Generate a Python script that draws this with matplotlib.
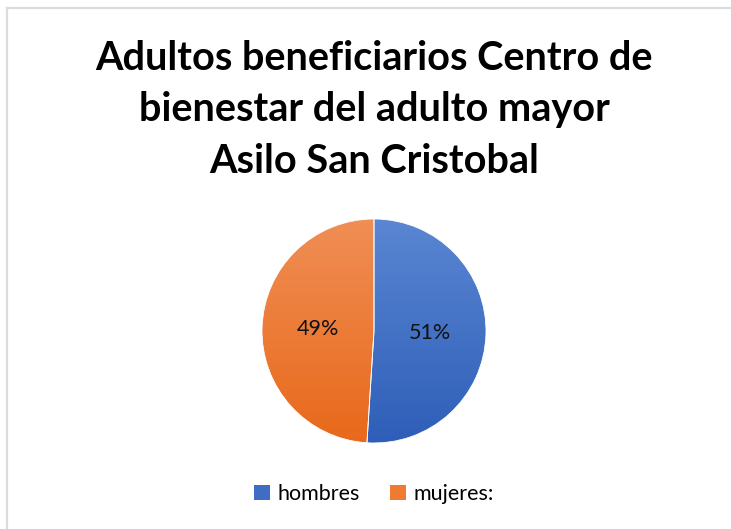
import numpy as np
import matplotlib.pyplot as plt
from matplotlib.patches import Patch

# data
labels = ['hombres', 'mujeres:']
values = [51, 49]
colors_top = ['#5A86D2', '#F08E55']
colors_bottom = ['#2E5EB8', '#E8691A']
title_lines = ['Adultos beneficiarios Centro de',
               'bienestar del adulto mayor',
               'Asilo San Cristobal']

plt.rcParams['font.family'] = ['Lato', 'DejaVu Sans']

W, H = 731, 529
fig = plt.figure(figsize=(W / 100, H / 100), dpi=100)

# chart border (only top and left visible in the crop)
fig.add_artist(plt.Line2D([7 / W, 7 / W], [0, 1 - 8 / H], color='#D9DDE2', lw=1.6))
fig.add_artist(plt.Line2D([7 / W, 1], [1 - 8 / H, 1 - 8 / H], color='#D9DDE2', lw=1.6))

# title
baselines = [70, 121, 173]
for line, yb in zip(title_lines, baselines):
    fig.text(374 / W, 1 - yb / H, line, ha='center', va='baseline',
             fontsize=28.5, fontweight='bold', color='black')

# pie
cx, cy, r = 374, 331, 112
ax = fig.add_axes([(cx - r) / W, (H - cy - r) / H, 2 * r / W, 2 * r / H])
wedges, texts, autotexts = ax.pie(values, startangle=90, counterclock=False,
                                  autopct='%1.0f%%', pctdistance=0.5,
                                  textprops={'fontsize': 15.5, 'color': '#111111'})
for w, ct, cb in zip(wedges, colors_top, colors_bottom):
    w.set_facecolor('none')
    w.set_edgecolor('none')
    t = np.array(plt.matplotlib.colors.to_rgb(ct))
    b = np.array(plt.matplotlib.colors.to_rgb(cb))
    frac = np.linspace(0, 1, 256)[:, None]
    grad = (t[None, :] * (1 - frac) + b[None, :] * frac)[:, None, :]
    im = ax.imshow(grad, extent=[-1, 1, -1, 1], origin='upper', aspect='auto', zorder=0)
    im.set_clip_path(w)
# thin white separator lines
for w in wedges:
    w.set_edgecolor('white')
    w.set_linewidth(0.6)
    w.set_zorder(1)
for t in autotexts:
    t.set_zorder(3)
ax.set_xlim(-1, 1)
ax.set_ylim(-1, 1)
ax.axis('off')

# legend
handles = [Patch(facecolor=c, edgecolor='none') for c in ['#3F6DC3', '#EE7B30']]
fig.legend(handles, labels, loc='center', bbox_to_anchor=(374 / W, 1 - 494 / H),
           ncol=2, frameon=False, fontsize=15.5, handlelength=0.75, handleheight=0.75,
           handletextpad=0.35, columnspacing=1.4)

fig.savefig('out.png', dpi=100, facecolor='white')
